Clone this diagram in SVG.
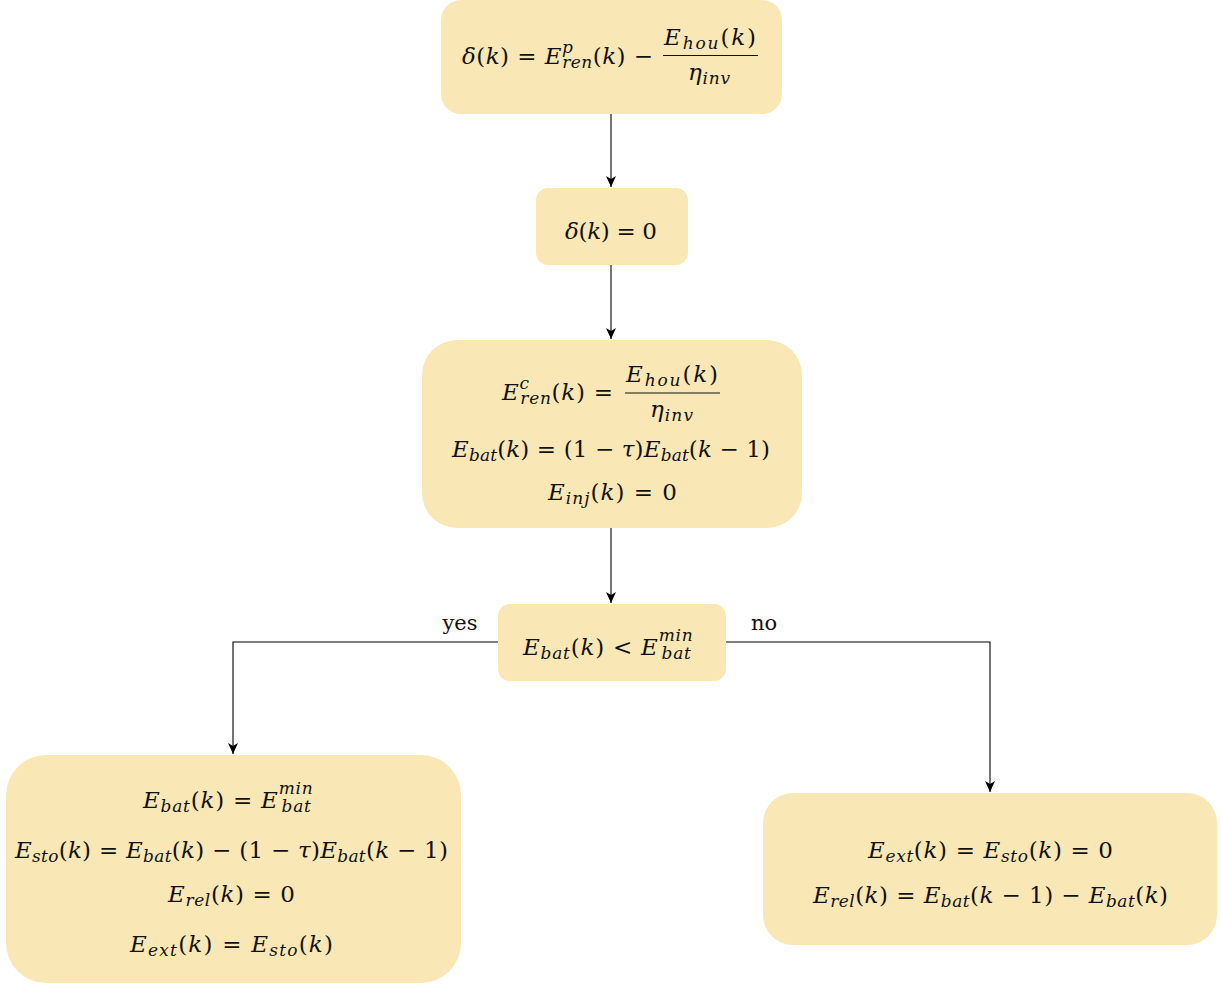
<svg xmlns="http://www.w3.org/2000/svg" width="1221" height="985" viewBox="0 0 1221 985">
<style>
.box{fill:#f9e8b6;stroke:none}
.t{font-family:"DejaVu Serif","Liberation Serif",serif;font-size:23px;fill:#111}
.i{font-style:italic}
.s{font-style:italic;font-size:17px}
.lbl{font-family:"DejaVu Serif","Liberation Serif",serif;font-size:21px;fill:#111}
.c{fill:none;stroke:#000;stroke-width:1.1}
.bar{stroke:#111;stroke-width:1.2}
</style>
<defs>
<marker id="ah" markerUnits="userSpaceOnUse" markerWidth="12" markerHeight="10" refX="11" refY="5" orient="auto">
<path d="M0,0 L11,5 L0,10 L3,5 z" fill="#000"/>
</marker>
</defs>
<g id="connectors">
<path class="c" d="M611,114 V187" marker-end="url(#ah)"/>
<path class="c" d="M611,265 V339" marker-end="url(#ah)"/>
<path class="c" d="M611,528 V603" marker-end="url(#ah)"/>
<path class="c" d="M498,642 H233 V754" marker-end="url(#ah)"/>
<path class="c" d="M726,642 H990 V792" marker-end="url(#ah)"/>
<text class="lbl" x="460" y="630" text-anchor="middle">yes</text>
<text class="lbl" x="764" y="630" text-anchor="middle">no</text>
</g>
<g id="n1">
<rect class="box" x="441" y="0" width="341" height="114" rx="20"/>
<text class="t" x="462" y="64" textLength="191" lengthAdjust="spacing"><tspan class="i">δ</tspan>(<tspan class="i">k</tspan>) = <tspan class="i">E</tspan><tspan class="s" dy="-11">p</tspan><tspan class="s" dx="-11" dy="15">ren</tspan><tspan dy="-4">(</tspan><tspan class="i">k</tspan>) −</text>
<text class="t" x="664" y="45" textLength="92" lengthAdjust="spacing"><tspan class="i">E</tspan><tspan class="s" dy="4">hou</tspan><tspan dy="-4">(</tspan><tspan class="i">k</tspan>)</text>
<line class="bar" x1="663" y1="55.5" x2="758" y2="55.5"/>
<text class="t" x="688" y="80" textLength="42" lengthAdjust="spacing"><tspan class="i">η</tspan><tspan class="s" dy="4">inv</tspan></text>
</g>
<g id="n2">
<rect class="box" x="536" y="188" width="152" height="77" rx="12"/>
<text class="t" x="565" y="239" textLength="92" lengthAdjust="spacing"><tspan class="i">δ</tspan>(<tspan class="i">k</tspan>) = 0</text>
</g>
<g id="n3">
<rect class="box" x="422" y="340" width="380" height="188" rx="35"/>
<text class="t" x="502" y="400" textLength="111" lengthAdjust="spacing"><tspan class="i">E</tspan><tspan class="s" dy="-11">c</tspan><tspan class="s" dx="-9.5" dy="15">ren</tspan><tspan dy="-4">(</tspan><tspan class="i">k</tspan>) =</text>
<text class="t" x="626" y="382" textLength="92" lengthAdjust="spacing"><tspan class="i">E</tspan><tspan class="s" dy="4">hou</tspan><tspan dy="-4">(</tspan><tspan class="i">k</tspan>)</text>
<line class="bar" x1="625" y1="393" x2="720" y2="393"/>
<text class="t" x="650" y="417" textLength="43" lengthAdjust="spacing"><tspan class="i">η</tspan><tspan class="s" dy="4">inv</tspan></text>
<text class="t" x="452" y="457" textLength="318" lengthAdjust="spacing"><tspan class="i">E</tspan><tspan class="s" dy="4">bat</tspan><tspan dy="-4">(</tspan><tspan class="i">k</tspan>) = (1 − <tspan class="i">τ</tspan>)<tspan class="i">E</tspan><tspan class="s" dy="4">bat</tspan><tspan dy="-4">(</tspan><tspan class="i">k</tspan> − 1)</text>
<text class="t" x="548" y="500" textLength="129" lengthAdjust="spacing"><tspan class="i">E</tspan><tspan class="s" dy="4">inj</tspan><tspan dy="-4">(</tspan><tspan class="i">k</tspan>) = 0</text>
</g>
<g id="n4">
<rect class="box" x="498" y="604" width="228" height="77" rx="12"/>
<text class="t" x="523" y="655" textLength="172" lengthAdjust="spacing"><tspan class="i">E</tspan><tspan class="s" dy="4">bat</tspan><tspan dy="-4">(</tspan><tspan class="i">k</tspan>) &lt; <tspan class="i">E</tspan><tspan class="s" dy="-14">min</tspan><tspan class="s" dx="-32" dy="18">bat</tspan></text>
</g>
<g id="n5">
<rect class="box" x="6" y="755" width="455" height="228" rx="40"/>
<text class="t" x="143" y="808" textLength="172" lengthAdjust="spacing"><tspan class="i">E</tspan><tspan class="s" dy="4">bat</tspan><tspan dy="-4">(</tspan><tspan class="i">k</tspan>) = <tspan class="i">E</tspan><tspan class="s" dy="-14">min</tspan><tspan class="s" dx="-32" dy="18">bat</tspan></text>
<text class="t" x="15" y="858" textLength="433" lengthAdjust="spacing"><tspan class="i">E</tspan><tspan class="s" dy="4">sto</tspan><tspan dy="-4">(</tspan><tspan class="i">k</tspan>) = <tspan class="i">E</tspan><tspan class="s" dy="4">bat</tspan><tspan dy="-4">(</tspan><tspan class="i">k</tspan>) − (1 − <tspan class="i">τ</tspan>)<tspan class="i">E</tspan><tspan class="s" dy="4">bat</tspan><tspan dy="-4">(</tspan><tspan class="i">k</tspan> − 1)</text>
<text class="t" x="168" y="902" textLength="127" lengthAdjust="spacing"><tspan class="i">E</tspan><tspan class="s" dy="4">rel</tspan><tspan dy="-4">(</tspan><tspan class="i">k</tspan>) = 0</text>
<text class="t" x="130" y="952" textLength="203" lengthAdjust="spacing"><tspan class="i">E</tspan><tspan class="s" dy="4">ext</tspan><tspan dy="-4">(</tspan><tspan class="i">k</tspan>) = <tspan class="i">E</tspan><tspan class="s" dy="4">sto</tspan><tspan dy="-4">(</tspan><tspan class="i">k</tspan>)</text>
</g>
<g id="n6">
<rect class="box" x="763" y="793" width="454" height="152" rx="30"/>
<text class="t" x="868" y="858" textLength="245" lengthAdjust="spacing"><tspan class="i">E</tspan><tspan class="s" dy="4">ext</tspan><tspan dy="-4">(</tspan><tspan class="i">k</tspan>) = <tspan class="i">E</tspan><tspan class="s" dy="4">sto</tspan><tspan dy="-4">(</tspan><tspan class="i">k</tspan>) = 0</text>
<text class="t" x="813" y="903" textLength="355" lengthAdjust="spacing"><tspan class="i">E</tspan><tspan class="s" dy="4">rel</tspan><tspan dy="-4">(</tspan><tspan class="i">k</tspan>) = <tspan class="i">E</tspan><tspan class="s" dy="4">bat</tspan><tspan dy="-4">(</tspan><tspan class="i">k</tspan> − 1) − <tspan class="i">E</tspan><tspan class="s" dy="4">bat</tspan><tspan dy="-4">(</tspan><tspan class="i">k</tspan>)</text>
</g>
</svg>
